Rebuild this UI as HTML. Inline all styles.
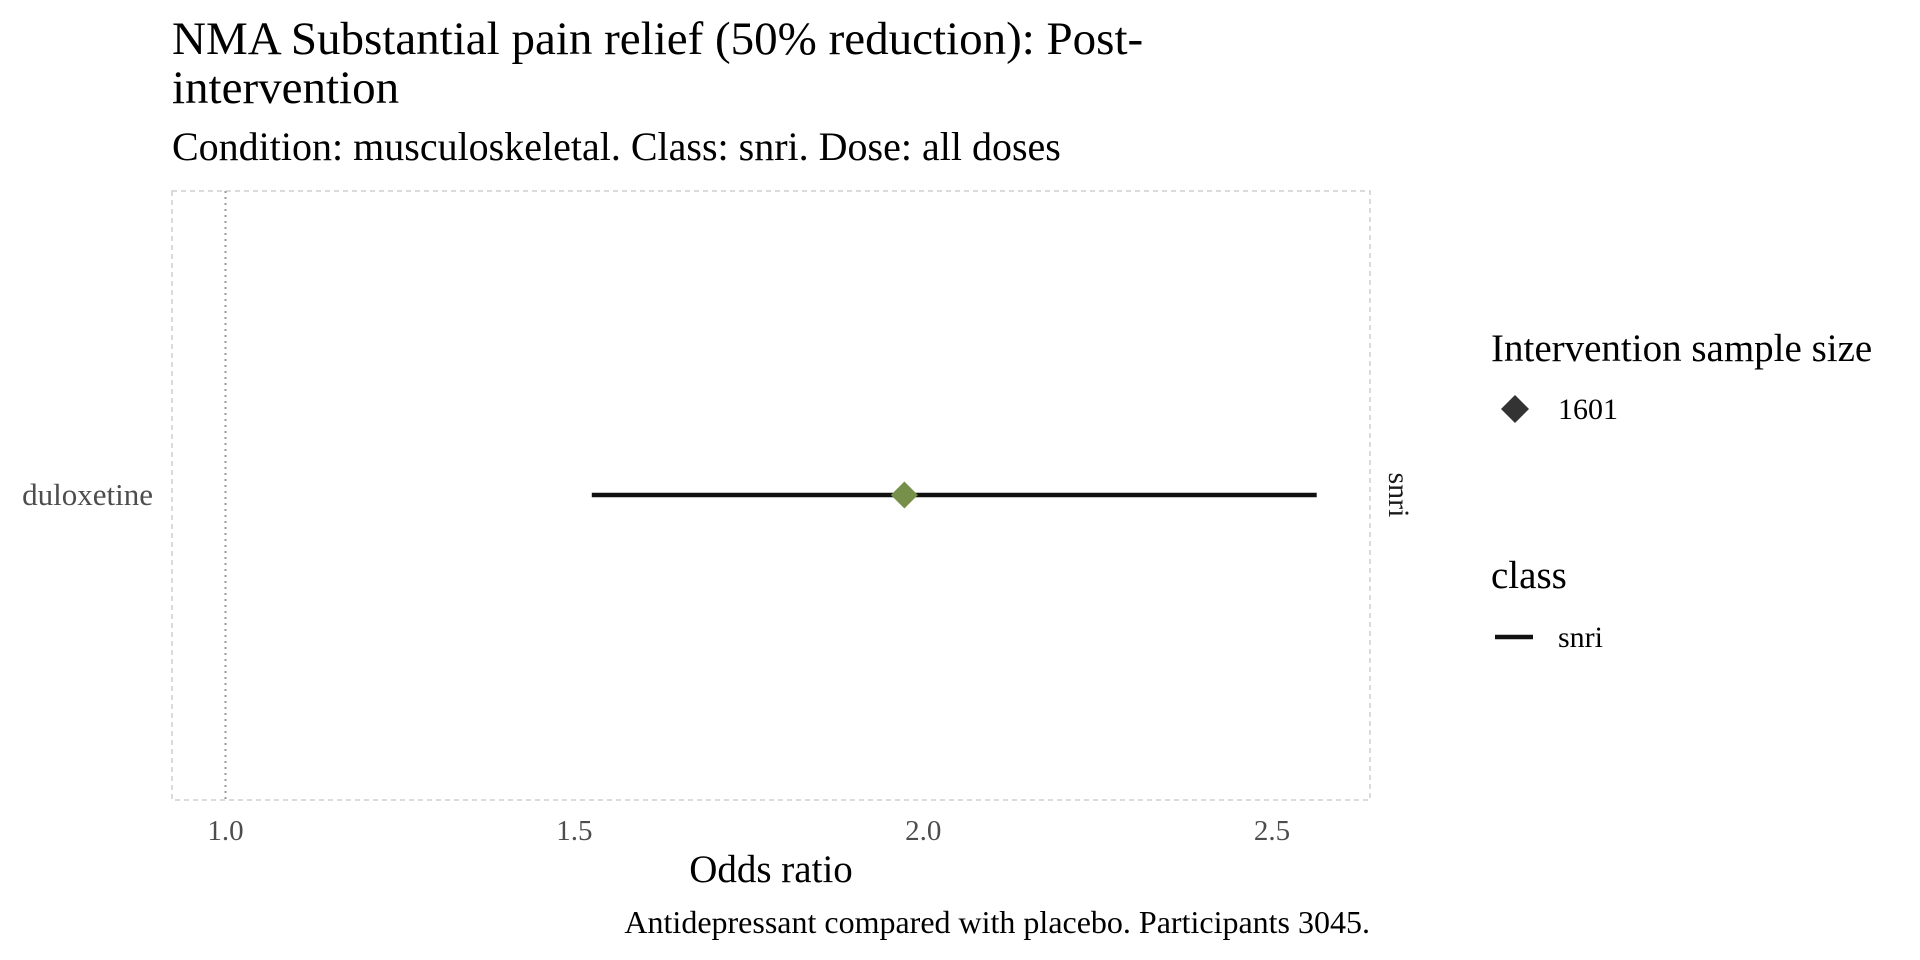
<!DOCTYPE html>
<html><head><meta charset="utf-8"><style>
html,body{margin:0;padding:0;background:#fff}
svg{display:block;font-family:"Liberation Serif",serif}
</style></head><body>
<svg width="1920" height="960" viewBox="0 0 1920 960">
<text x="172" y="54" font-size="47" fill="#000">NMA Substantial pain relief (50% reduction): Post-</text>
<text x="172" y="103" font-size="47" fill="#000">intervention</text>
<text x="172" y="160" font-size="40" fill="#000">Condition: musculoskeletal. Class: snri. Dose: all doses</text>
<rect x="172" y="191" width="1198" height="609" fill="none" stroke="#cfcfcf" stroke-width="1.5" stroke-dasharray="5,4"/>
<g id="plot"></g>
<text x="771" y="882" font-size="39" text-anchor="middle" fill="#000">Odds ratio</text>
<text x="1370" y="933" font-size="32" text-anchor="end" fill="#000">Antidepressant compared with placebo. Participants 3045.</text>
<text transform="translate(1389,495) rotate(90)" font-size="30" text-anchor="middle" fill="#1a1a1a">snri</text>
<text x="1491" y="361" font-size="39" fill="#000">Intervention sample size</text>
<polygon points="1515,395 1529,409 1515,423 1501,409" fill="#333"/>
<text x="1558" y="419" font-size="30" fill="#000">1601</text>
<text x="1491" y="588" font-size="39" fill="#000">class</text>
<line x1="1495" y1="637" x2="1533" y2="637" stroke="#111" stroke-width="4.5"/>
<text x="1558" y="647" font-size="30" fill="#000">snri</text>
</svg>
<script>
const categories=["duloxetine"];
const estimates=[1.973];
const lowers=[1.525];
const uppers=[2.564];
const xTicks=[1.0,1.5,2.0,2.5];
const xTickLabels=["1.0","1.5","2.0","2.5"];
const NS="http://www.w3.org/2000/svg";
const g=document.getElementById('plot');
const x=v=>225.5+(v-1)*697.7;
const y=i=>495+i*60;
function mk(t,a){const e=document.createElementNS(NS,t);for(const k in a)e.setAttribute(k,a[k]);g.appendChild(e);return e;}
const ref=mk('line',{x1:x(1),x2:x(1),y1:191,y2:800,stroke:'#999','stroke-width':2,'stroke-dasharray':'2,4'});


xTicks.forEach((v,i)=>{const t=mk('text',{x:x(v),y:840,'font-size':29,'text-anchor':'middle',fill:'#4d4d4d'});t.textContent=xTickLabels[i];

});
categories.forEach((c,i)=>{
const l=mk('text',{x:153,y:y(i)+10,'font-size':31,'text-anchor':'end',fill:'#4d4d4d'});l.textContent=c;


const ci=mk('line',{x1:x(lowers[i]),x2:x(uppers[i]),y1:y(i),y2:y(i),stroke:'#111','stroke-width':4.5});


const cx=x(estimates[i]),cy=y(i),r=13.5;
const p=mk('polygon',{points:`${cx},${cy-r} ${cx+r},${cy} ${cx},${cy+r} ${cx-r},${cy}`,fill:'#76904a'});


});
</script>
</body></html>
